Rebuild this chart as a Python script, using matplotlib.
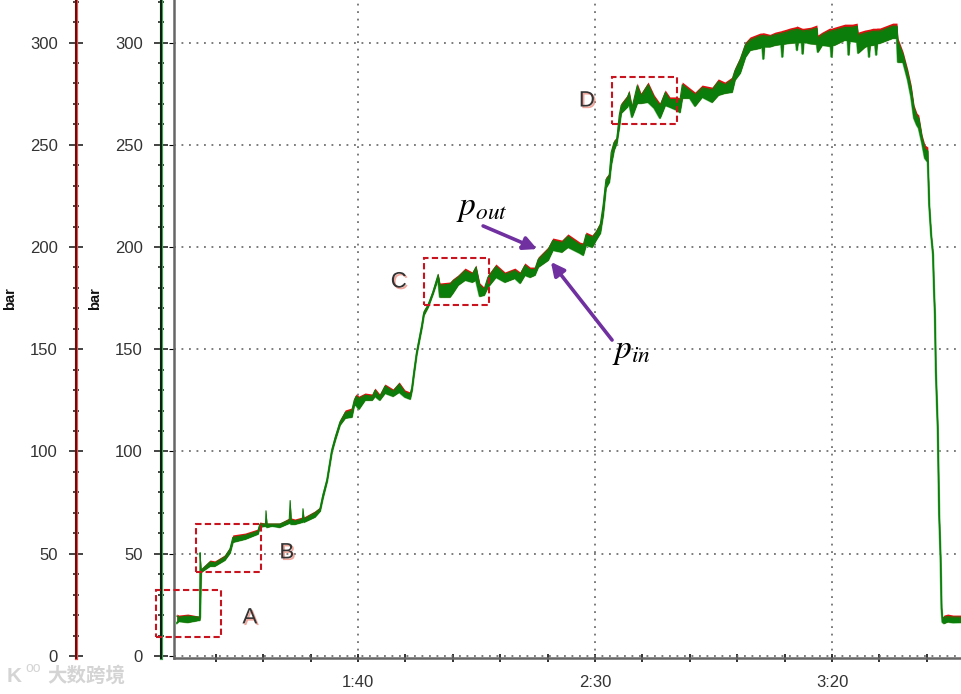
import matplotlib
matplotlib.use("Agg")
import matplotlib.pyplot as plt
import matplotlib.patheffects as pe
from matplotlib.patches import Rectangle
from matplotlib.ticker import MultipleLocator

# pressure trace: time in s, pressures in bar
time_s = [
    61.8, 62.2, 64.1, 66.4, 66.6, 66.7, 66.9, 68.8, 69.8, 71.9,
    73.0, 73.6, 76.2, 78.9, 79.3, 80.5, 80.6, 80.8, 81.9, 83.5,
    85.5, 85.7, 85.9, 86.7, 88.3, 88.4, 88.6, 90.9, 92.0, 92.6,
    93.5, 94.5, 95.2, 96.2, 97.3, 98.7, 99.2, 99.6, 100.2, 101.5,
    103.0, 103.6, 104.6, 105.7, 107.4, 108.7, 109.9, 111.0, 111.4, 111.8,
    112.4, 113.5, 113.9, 114.8, 115.8, 116.9, 117.3, 119.4, 120.0, 121.1,
    122.6, 124.1, 124.9, 125.7, 126.6, 127.4, 129.1, 131.0, 133.1, 134.2,
    135.2, 136.3, 137.3, 138.0, 140.1, 141.1, 143.0, 144.3, 146.8, 147.5,
    148.1, 149.4, 150.2, 151.1, 151.7, 152.3, 153.0, 153.4, 154.0, 154.6,
    155.1, 155.5, 156.8, 157.2, 157.8, 158.9, 159.7, 161.2, 162.5, 163.7,
    164.8, 165.8, 167.3, 167.9, 168.4, 170.0, 171.1, 172.6, 174.7, 176.0,
    177.4, 178.9, 179.5, 180.6, 181.7,
    182.7, 184.8, 185.3, 185.5, 185.7, 186.9, 188.0, 189.3, 189.5, 189.7,
    190.3, 191.1, 192.4, 192.6, 192.8, 193.6, 193.8, 194.0, 194.3, 195.5,
    196.8, 197.0, 197.9, 199.5, 199.7, 199.9, 200.1, 200.5, 202.7, 203.3,
    203.5, 203.7, 204.3, 205.3, 205.5, 206.9, 207.6, 207.8, 208.0, 208.6,
    209.1, 209.3, 209.5, 210.1, 212.8, 213.7, 213.9,
    215.0, 216.0, 216.7, 217.3,
    217.9, 218.3, 219.0, 219.6, 220.2, 220.3, 220.5, 220.9, 221.3, 221.5,
    221.7, 221.9, 222.3, 222.6, 222.9, 223.1, 223.3, 223.6, 224.4, 225.5,
    227.2,
]
p_out = [
    20.5, 20.0, 20.5, 19.5, 19.5, 51.0, 42.5, 46.9, 46.5, 49.4,
    53.3, 59.2, 60.1, 62.1, 65.5, 65.0, 71.4, 65.0, 65.0, 65.0,
    67.5, 76.3, 67.5, 67.0, 68.0, 72.4, 68.0, 70.9, 72.9, 79.7,
    87.5, 102.2, 108.1, 115.4, 120.3, 121.3, 126.2, 128.1, 127.1, 128.6,
    128.1, 131.0, 128.1, 133.0, 130.6, 134.0, 130.1, 129.1, 132.5, 139.9,
    149.6, 163.3, 169.2, 172.6, 179.0, 187.3, 182.4, 182.9, 184.4, 186.3,
    189.7, 187.8, 191.2, 182.4, 180.4, 186.3, 191.7, 187.8, 189.7, 187.8,
    192.2, 190.2, 190.2, 195.1, 200.0, 204.4, 203.4, 206.4, 202.4, 202.0,
    207.3, 205.9, 208.3, 212.2, 221.5, 234.2, 236.2, 247.4, 252.3, 253.8,
    265.5, 270.4, 274.3, 276.8, 269.4, 280.2, 275.3, 280.7, 274.3, 270.4,
    276.8, 273.4, 273.4, 272.9, 280.7, 277.8, 275.8, 279.2, 278.2, 282.2,
    280.7, 283.1, 287.5, 292.9, 300.2,
    302.7, 304.6, 304.7, 304.8, 304.7, 304.0, 305.1, 305.8, 306.0, 306.1,
    306.5, 307.1, 307.8, 308.1, 307.9, 307.1, 307.0, 307.0, 307.1, 307.5,
    308.6, 303.7, 305.1, 307.1, 307.0, 307.0, 307.2, 307.5, 309.0, 309.0,
    309.0, 309.0, 309.0, 309.5, 305.1, 306.1, 306.4, 306.5, 306.6, 307.0,
    307.0, 307.0, 307.1, 307.1, 309.5, 309.5, 302.2,
    295.4, 286.6, 279.2, 269.4,
    265.5, 264.5, 254.8, 249.9, 248.9, 237.7, 221.5, 206.8, 197.1, 180.4,
    167.7, 139.9, 112.0, 69.9, 48.4, 24.0, 18.6, 20.0, 20.5, 20.0,
    20.0,
]
p_in_top = [
    19.5, 19.0, 19.5, 19.0, 19.0, 50.5, 42.0, 46.0, 45.5, 48.5,
    52.3, 58.0, 59.0, 61.0, 64.5, 64.5, 71.0, 64.5, 64.5, 64.5,
    66.5, 76.0, 66.5, 66.0, 67.0, 72.0, 67.0, 70.0, 72.0, 78.8,
    86.5, 101.0, 107.0, 114.5, 119.0, 120.0, 125.0, 127.0, 126.0, 127.5,
    127.0, 130.0, 127.0, 132.0, 129.5, 133.0, 129.0, 128.0, 131.5, 139.0,
    148.8, 162.3, 168.2, 171.8, 178.0, 186.5, 181.3, 181.8, 183.3, 185.2,
    188.5, 186.7, 190.2, 181.3, 179.3, 185.2, 190.5, 186.7, 188.5, 186.7,
    191.0, 189.0, 189.0, 193.9, 198.8, 203.2, 202.2, 205.2, 201.2, 200.8,
    206.1, 204.7, 207.1, 211.0, 220.3, 233.0, 235.0, 246.2, 251.1, 252.8,
    264.3, 269.2, 273.0, 275.5, 268.2, 278.9, 274.0, 279.4, 273.0, 269.1,
    275.5, 272.1, 272.1, 271.6, 279.4, 276.5, 274.5, 277.9, 276.9, 280.9,
    279.4, 281.8, 286.2, 291.6, 298.9,
    301.2, 303.2, 303.3, 303.4, 303.3, 303.0, 303.8, 304.4, 304.6, 304.7,
    305.0, 305.7, 306.4, 306.5, 306.4, 305.8, 305.7, 305.7, 305.8, 306.2,
    307.0, 302.0, 303.8, 305.6, 305.6, 305.6, 305.8, 306.0, 307.4, 307.4,
    307.4, 307.4, 307.5, 308.0, 303.5, 304.6, 304.9, 305.0, 305.1, 305.5,
    305.5, 305.5, 305.6, 305.6, 308.0, 308.0, 300.5,
    294.0, 285.0, 277.5, 268.0,
    264.0, 263.0, 253.5, 248.0, 247.0, 236.5, 221.0, 206.3, 196.6, 180.0,
    167.3, 139.5, 111.6, 69.5, 48.0, 23.6, 18.2, 19.0, 19.2, 19.0,
    19.0,
]
p_in_low = [
    16.1, 17.0, 16.5, 17.5, 17.5, 19.0, 41.0, 44.0, 44.0, 46.9,
    50.4, 55.7, 57.2, 59.7, 63.1, 63.6, 64.0, 63.0, 63.6, 63.0,
    65.0, 65.5, 64.5, 64.5, 65.5, 66.5, 65.5, 68.0, 70.9, 77.3,
    85.6, 99.8, 105.6, 113.0, 116.4, 116.9, 122.7, 122.7, 120.8, 125.2,
    125.2, 127.1, 125.2, 128.6, 127.1, 129.1, 126.7, 125.7, 130.1, 137.4,
    147.7, 160.9, 166.7, 170.7, 177.0, 184.8, 175.6, 175.6, 177.5, 181.4,
    183.9, 182.9, 183.9, 176.0, 176.5, 180.4, 185.3, 182.9, 184.8, 182.4,
    186.3, 185.3, 186.3, 190.2, 193.6, 198.5, 197.6, 200.0, 197.1, 196.1,
    201.0, 200.0, 203.4, 206.8, 215.6, 228.9, 231.8, 240.1, 247.4, 250.9,
    258.7, 265.5, 268.5, 270.4, 263.6, 270.4, 270.4, 270.9, 268.0, 263.1,
    269.4, 268.5, 267.0, 265.9, 272.9, 272.9, 269.0, 273.4, 270.9, 274.3,
    275.3, 275.8, 281.7, 285.1, 292.9,
    296.3, 297.3, 298.0, 292.0, 298.0, 298.0, 298.8, 299.2, 293.0, 299.3,
    299.5, 299.8, 300.0, 296.3, 300.0, 300.1, 294.5, 300.2, 300.2, 299.5,
    299.3, 295.4, 298.8, 298.3, 298.5, 293.0, 298.8, 298.8, 301.3, 301.0,
    294.0, 300.8, 300.6, 300.3, 294.9, 297.8, 298.5, 293.0, 298.6, 298.8,
    299.0, 294.0, 299.5, 299.8, 302.2, 302.2, 290.5,
    290.5, 281.7, 273.4, 263.1,
    259.7, 258.2, 250.9, 243.5, 241.6, 235.2, 220.5, 206.0, 196.2, 179.6,
    166.9, 139.1, 111.2, 69.1, 47.6, 23.2, 16.6, 16.0, 16.8, 16.4,
    16.5,
]

y_major = [0, 50, 100, 150, 200, 250, 300]
x_major = [100, 150, 200]
x_labels = ["1:40", "2:30", "3:20"]

# dashed boxes: name, start time, end time, low bar, high bar
box_names = ["A", "B", "C", "D"]
box_t0 = [57.4, 65.8, 113.9, 153.6]
box_t1 = [71.1, 79.5, 127.6, 167.3]
box_p0 = [9.3, 41.1, 171.6, 260.1]
box_p1 = [32.3, 64.5, 194.6, 283.1]
label_t = [77.2, 85.0, 108.6, 148.3]
label_p = [18.6, 50.4, 182.9, 271.4]

plt.rcParams["font.family"] = ["Liberation Sans", "Noto Sans CJK SC", "DejaVu Sans"]
plt.rcParams["mathtext.fontset"] = "stix"

W, H = 961, 694
fig = plt.figure(figsize=(W / 100, H / 100), dpi=100)
ax = fig.add_axes([174 / W, (H - 658) / H, 787 / W, 658 / H])
ax.set_xlim(61.2, 227.2)
ax.set_ylim(-1, 320.8)

# grid
dots = (0, (1.1, 3.4))
ax.set_yticks(y_major)
ax.set_xticks(x_major, x_labels)
ax.xaxis.set_minor_locator(MultipleLocator(10))
ax.grid(True, which="major", color="#666666", lw=1.2, linestyle=dots, zorder=0)
ax.set_axisbelow(True)

# trace
green = "#0a7d0a"
ax.plot(time_s, p_in_low, color="#7ac77a", lw=1.8, zorder=3)
ax.fill_between(time_s, p_in_low, p_out, color="#e01010", lw=0, zorder=3)
ax.fill_between(time_s, p_in_low, p_in_top, color=green, lw=0, zorder=4)
ax.plot(time_s, p_in_low, color=green, lw=1.0, zorder=4)
ax.plot(time_s, p_in_top, color=green, lw=0.8, zorder=4)

# axes look
for s in ["top", "right"]:
    ax.spines[s].set_visible(False)
for s in ["left", "bottom"]:
    ax.spines[s].set_color("#666666")
    ax.spines[s].set_linewidth(1.8)
ax.tick_params(axis="y", left=False, labelleft=False)
ax.tick_params(axis="x", which="major", direction="inout", length=6, width=1.2,
               color="#111111", labelsize=12, labelcolor="#333333", pad=9.4)
ax.tick_params(axis="x", which="minor", direction="inout", length=6, width=1.2, color="#111111")

# the two pressure axes on the left
for offset, core, halo, label_x in [(9.4, "#06200c", "#3fa04f", 102), (70.6, "#5a1010", "#e85050", 17)]:
    a = ax.twinx()
    a.set_ylim(ax.get_ylim())
    for s in a.spines.values():
        s.set_visible(False)
    sp = a.spines["left"]
    sp.set_visible(True)
    sp.set_position(("outward", offset))
    sp.set_color(core)
    sp.set_linewidth(1.4)
    sp.set_path_effects([pe.Stroke(linewidth=2.3, foreground=halo), pe.Normal()])
    a.yaxis.tick_left()
    a.yaxis.set_label_position("left")
    a.set_yticks(y_major)
    a.yaxis.set_minor_locator(MultipleLocator(10))
    a.tick_params(axis="y", which="major", direction="inout", length=10, width=1.1,
                  color="#111111", labelsize=12, labelcolor="#333333", pad=8)
    a.tick_params(axis="y", which="minor", direction="inout", length=5, width=1.1, color="#111111")
    a.set_ylabel("bar", fontsize=10.5, fontweight="bold", color="#111111")
    a.yaxis.set_label_coords((label_x - 174) / 787, (658 - 299) / 658)
ax.set_zorder(5)
ax.patch.set_visible(False)

# dashed boxes and letters
for i in range(len(box_names)):
    ax.add_patch(Rectangle((box_t0[i], box_p0[i]), box_t1[i] - box_t0[i], box_p1[i] - box_p0[i],
                           fill=False, edgecolor="#c8141e", lw=1.5, linestyle=(0, (3, 1.6)),
                           clip_on=False, zorder=6))
    ax.text(label_t[i], label_p[i], box_names[i], fontsize=16, color="#333333", ha="center", va="center",
            zorder=7, path_effects=[pe.withSimplePatchShadow(offset=(1.2, -1.2), shadow_rgbFace="#e88070", alpha=0.7)])

# arrows and pressure names
purple = "#7030a0"
ax.annotate("", xy=(137.8, 199.0), xytext=(126.4, 210.3), zorder=8,
            arrowprops=dict(arrowstyle="-|>", color=purple, lw=2.6, mutation_scale=20, shrinkA=0, shrinkB=0))
ax.annotate("", xy=(140.7, 192.7), xytext=(153.6, 154.5), zorder=8,
            arrowprops=dict(arrowstyle="-|>", color=purple, lw=2.6, mutation_scale=20, shrinkA=0, shrinkB=0))
ax.text(126.2, 219.0, r"$p_{out}$", fontsize=24, color="black", ha="center", va="center", zorder=8)
ax.text(157.6, 148.7, r"$p_{in}$", fontsize=24, color="black", ha="center", va="center", zorder=8)

# watermark
mark = dict(color="#d4d4d4", zorder=9, va="center")
fig.text(7 / W, (H - 676) / H, "K", fontsize=15, fontweight="bold", **mark)
fig.text(25 / W, (H - 668) / H, "oo", fontsize=10, **mark)
fig.text(47 / W, (H - 676) / H, "大数跨境", fontsize=14, fontweight="bold", **mark)

fig.savefig("out.png", dpi=100)
